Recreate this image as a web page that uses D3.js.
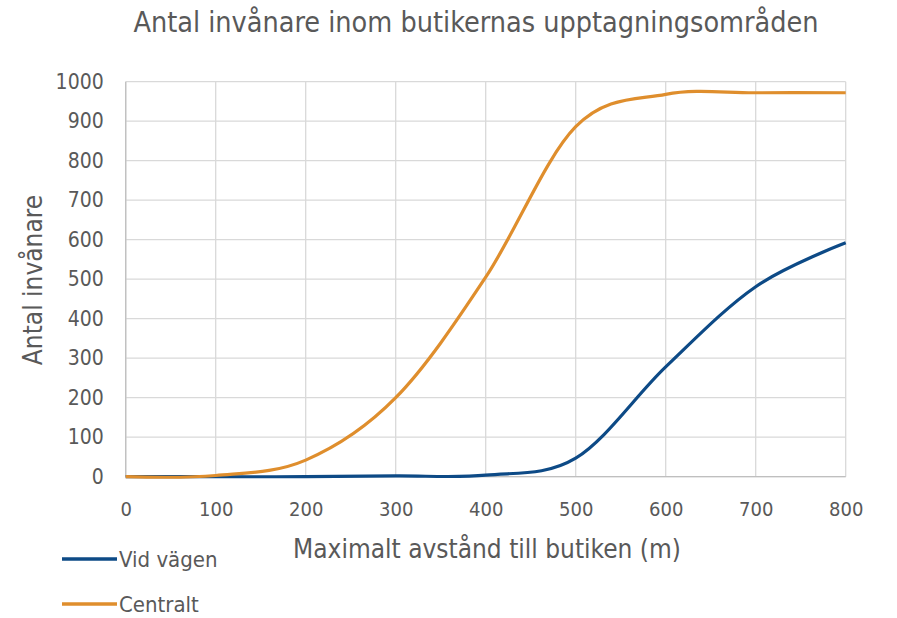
<!DOCTYPE html>
<html lang="sv">
<head>
  <meta charset="UTF-8">
  <title>Antal invånare inom butikernas upptagningsområden</title>
  <style>
    body {
      margin: 0;
      background: white;
      overflow: hidden;
    }

    text {
      font-family: "DejaVu Sans Condensed", "Liberation Sans Narrow", sans-serif;
      fill: #595959;
    }

    .grid line {
      stroke: #d9d9d9;
      stroke-width: 1.3px;
    }

    .axis path, .axis line {
      stroke: none;
    }

    .series {
      fill: none;
      stroke-width: 3.2px;
    }
  </style>
</head>
<body>
  <script src="https://d3js.org/d3.v7.min.js"></script>
  <script>
    const width = 897;
    const height = 618;

    const distances = [0, 100, 200, 300, 400, 500, 600, 700, 800];
    const vidVagen = [0, 0, 0, 2, 4, 47, 278, 481, 592];
    const centralt = [0, 3, 42, 200, 505, 886, 968, 972, 972];

    const xTicks = [0, 100, 200, 300, 400, 500, 600, 700, 800];
    const yTicks = [0, 100, 200, 300, 400, 500, 600, 700, 800, 900, 1000];

    const seriesNames = ["Vid vägen", "Centralt"];
    const seriesColors = ["#0d4a86", "#df8e2d"];

    const margin = { left: 125.7, right: 51.3, top: 81.7, bottom: 141.3 };

    const svg = d3.select("body").append("svg")
      .attr("width", width)
      .attr("height", height);

    const x = d3.scaleLinear()
      .domain([0, 800])
      .range([margin.left, width - margin.right]);

    const y = d3.scaleLinear()
      .domain([0, 1000])
      .range([height - margin.bottom, margin.top]);

    // grid
    const grid = svg.append("g").attr("class", "grid");
    grid.selectAll(".h")
      .data(yTicks)
      .enter()
      .append("line")
      .attr("x1", x(0))
      .attr("x2", x(800))
      .attr("y1", d => y(d))
      .attr("y2", d => y(d));
    grid.selectAll(".v")
      .data(xTicks)
      .enter()
      .append("line")
      .attr("x1", d => x(d))
      .attr("x2", d => x(d))
      .attr("y1", y(0))
      .attr("y2", y(1000));

    // axis lines a bit darker
    svg.append("line")
      .attr("x1", x(0)).attr("x2", x(800))
      .attr("y1", y(0)).attr("y2", y(0))
      .attr("stroke", "#bfbfbf").attr("stroke-width", 1.3);
    svg.append("line")
      .attr("x1", x(0)).attr("x2", x(0))
      .attr("y1", y(0)).attr("y2", y(1000))
      .attr("stroke", "#bfbfbf").attr("stroke-width", 1.3);

    svg.append("g")
      .attr("class", "axis")
      .attr("transform", `translate(0,${y(0)})`)
      .call(d3.axisBottom(x).tickValues(xTicks).tickFormat(d3.format("d")).tickSize(0).tickPadding(32))
      .selectAll("text")
      .style("font-size", "20px")
      .attr("dy", "0.35em")
      .attr("fill", "#595959");

    svg.append("g")
      .attr("class", "axis")
      .attr("transform", `translate(${x(0)},0)`)
      .call(d3.axisLeft(y).tickValues(yTicks).tickFormat(d3.format("d")).tickSize(0).tickPadding(22))
      .selectAll("text")
      .style("font-size", "21px")
      .attr("fill", "#595959");

    svg.selectAll(".axis .domain").remove();

    // lines
    const line = d3.line()
      .x(d => x(d[0]))
      .y(d => y(d[1]))
      .curve(d3.curveCatmullRom.alpha(0));

    [vidVagen, centralt].forEach(function(values, i) {
      svg.append("path")
        .datum(distances.map((dist, j) => [dist, values[j]]))
        .attr("class", "series")
        .attr("stroke", seriesColors[i])
        .attr("d", line);
    });

    // titles
    svg.append("text")
      .attr("x", 476)
      .attr("y", 32)
      .attr("text-anchor", "middle")
      .style("font-size", "28.5px")
      .text("Antal invånare inom butikernas upptagningsområden");

    svg.append("text")
      .attr("transform", "translate(42,280) rotate(-90)")
      .attr("text-anchor", "middle")
      .style("font-size", "26px")
      .text("Antal invånare");

    svg.append("text")
      .attr("x", 487)
      .attr("y", 558)
      .attr("text-anchor", "middle")
      .style("font-size", "26px")
      .text("Maximalt avstånd till butiken (m)");

    // legend
    const legend = svg.append("g");
    seriesNames.forEach(function(name, i) {
      const ly = 559 + i * 45;
      legend.append("line")
        .attr("x1", 62).attr("x2", 117)
        .attr("y1", ly).attr("y2", ly)
        .attr("stroke", seriesColors[i])
        .attr("stroke-width", 3.5);
      legend.append("text")
        .attr("x", 119)
        .attr("y", ly)
        .attr("dy", "0.35em")
        .style("font-size", "22px")
        .text(name);
    });
  </script>
</body>
</html>
